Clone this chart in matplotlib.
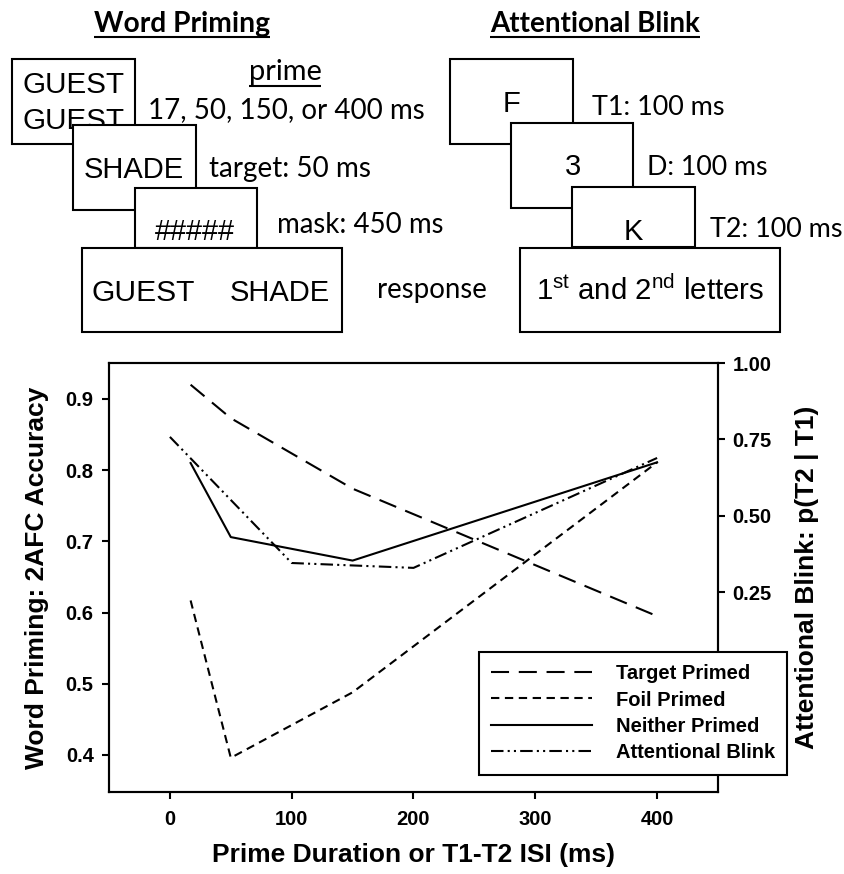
import matplotlib
matplotlib.use('Agg')
import matplotlib.pyplot as plt
from matplotlib.patches import Rectangle
from matplotlib.ticker import FormatStrFormatter

plt.rcParams['font.family'] = ['Liberation Sans', 'DejaVu Sans']
plt.rcParams['mathtext.fontset'] = 'custom'
plt.rcParams['mathtext.rm'] = 'Liberation Sans'
plt.rcParams['lines.scale_dashes'] = False

# word priming: prime durations (ms) and 2AFC accuracy
prime_ms = [17, 50, 150, 400]
target_primed = [0.920, 0.873, 0.774, 0.595]
foil_primed = [0.617, 0.396, 0.488, 0.811]
neither_primed = [0.810, 0.706, 0.673, 0.811]

# attentional blink: T1-T2 ISI (ms) and p(T2 | T1)
isi_ms = [0, 100, 200, 400]
blink = [0.758, 0.345, 0.329, 0.689]

x_ticks = [0, 100, 200, 300, 400]
left_ticks = [0.4, 0.5, 0.6, 0.7, 0.8, 0.9]
right_ticks = [0.25, 0.5, 0.75, 1.0]

fig = plt.figure(figsize=(8.45, 8.74), dpi=100)

# --- procedure sketch on top, drawn in pixel coords ---
ax0 = fig.add_axes([0, 0, 1, 1])
ax0.set_xlim(0, 845)
ax0.set_ylim(874, 0)
ax0.axis('off')
renderer = fig.canvas.get_renderer()


def box(x0, y0, x1, y1, z):
    ax0.add_patch(Rectangle((x0, y0), x1 - x0, y1 - y0, fc='white', ec='black',
                            lw=1.5, zorder=z))


def put(x, y, s, width=None, size=21, ha='left', z=20, family='Lato', weight='normal'):
    t = ax0.text(x, y, s, ha=ha, va='baseline', fontsize=size, family=family,
                 weight=weight, zorder=z)
    if width is not None:
        w = t.get_window_extent(renderer).width
        t.set_fontsize(size * width / w)
    return t


def underline(t, y):
    bb = t.get_window_extent(renderer)
    ax0.plot([bb.x0, bb.x1], [y, y], color='black', lw=1.5, solid_capstyle='butt')


arial = 'Liberation Sans'

# Word Priming
underline(put(182, 32, 'Word Priming', 175, ha='center', weight='bold'), 37)
box(12, 59, 135, 144, 1)
put(23, 93, 'GUEST', 102, family=arial, z=1.5)
put(23, 129, 'GUEST', 102, family=arial, z=1.5)
underline(put(285, 80, 'prime', 73, ha='center'), 86)
put(148, 118, '17, 50, 150, or 400 ms', 275)
box(73, 125, 196, 210, 2)
put(134, 178, 'SHADE', 100, ha='center', family=arial, z=2.5)
put(209, 177, 'target: 50 ms', 162)
box(135, 188, 257, 248, 3)
put(195, 240, '#####', 80, ha='center', family=arial, z=3.5)
put(277, 233, 'mask: 450 ms', 166)
box(82, 248, 342, 332, 4)
put(92, 301, 'GUEST', 103, family=arial, z=4.5)
put(230, 301, 'SHADE', 100, family=arial, z=4.5)
put(377, 298, 'response', 110)

# Attentional Blink
underline(put(595, 32, 'Attentional Blink', 210, ha='center', weight='bold'), 37)
box(450, 59, 573, 144, 1)
put(512, 112, 'F', ha='center', family=arial, z=1.5)
put(592, 115, 'T1: 100 ms', 133)
box(511, 123, 633, 208, 2)
put(573, 175, '3', ha='center', family=arial, z=2.5)
put(647, 175, 'D: 100 ms', 121)
box(572, 187, 695, 247, 3)
put(633, 240, 'K', ha='center', family=arial, z=3.5)
put(710, 237, 'T2: 100 ms', 133)
box(520, 248, 780, 332, 4)
put(650, 300, r'1$^{\rm st}$ and 2$^{\rm nd}$ letters', 228, ha='center', family=arial, z=4.5)

# --- results plot ---
ax = fig.add_axes([109 / 845, 82 / 874, 609 / 845, 429 / 874])
ax2 = ax.twinx()

ax.plot(prime_ms, target_primed, color='black', lw=1.5, ls=(0, (13, 7)), label='Target Primed')
ax.plot(prime_ms, foil_primed, color='black', lw=1.5, ls=(0, (6, 4)), label='Foil Primed')
ax.plot(prime_ms, neither_primed, color='black', lw=1.5, ls='-', label='Neither Primed')
ax2.plot(isi_ms, blink, color='black', lw=1.5, ls=(0, (9, 3, 1.5, 3, 1.5, 3)),
         label='Attentional Blink')

ax.set_xlim(-50, 450)
ax.set_ylim(0.348, 0.9505)
ax2.set_ylim(-0.405, 1.0)
ax.set_xticks(x_ticks)
ax.set_yticks(left_ticks)
ax2.set_yticks(right_ticks)
ax2.yaxis.set_major_formatter(FormatStrFormatter('%.2f'))

for a in (ax, ax2):
    for sp in a.spines.values():
        sp.set_linewidth(1.5)
    a.tick_params(direction='out', length=5, width=1.5, labelsize=14.5)
    for lab in a.get_xticklabels() + a.get_yticklabels():
        lab.set_fontweight('bold')
ax.tick_params(axis='x', pad=8)
ax.tick_params(axis='y', pad=6)
ax2.tick_params(axis='y', pad=5.5)

ax.set_xlabel('Prime Duration or T1-T2 ISI (ms)', fontsize=19, fontweight='bold', labelpad=10)
ax.set_ylabel('Word Priming: 2AFC Accuracy', fontsize=19, fontweight='bold', labelpad=12)
ax2.set_ylabel('Attentional Blink: p(T2 | T1)', fontsize=19, fontweight='bold', labelpad=17)

handles = ax.get_lines() + ax2.get_lines()
leg = fig.legend(handles, [h.get_label() for h in handles], loc='upper left',
                 bbox_to_anchor=(479 / 845, 1 - 652 / 874), borderaxespad=0,
                 fancybox=False, edgecolor='black', framealpha=1,
                 prop={'weight': 'bold', 'size': 14.5}, handlelength=5,
                 handletextpad=1.2, labelspacing=0.37, borderpad=0.6)
leg.get_frame().set_linewidth(1.5)

fig.savefig('out.png', dpi=100)
